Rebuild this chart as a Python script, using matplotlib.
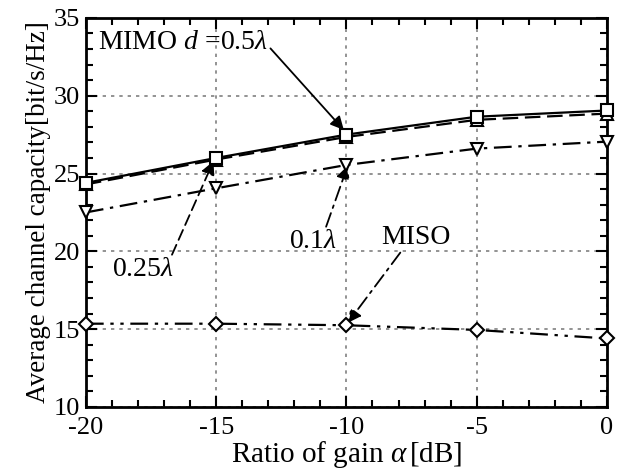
import matplotlib
matplotlib.use('Agg')
import matplotlib.pyplot as plt
from matplotlib.ticker import MultipleLocator

plt.rcParams['font.family'] = ['Liberation Serif', 'DejaVu Serif']
plt.rcParams['mathtext.fontset'] = 'custom'
plt.rcParams['mathtext.rm'] = 'Liberation Serif'
plt.rcParams['mathtext.it'] = 'Liberation Serif:italic'
plt.rcParams['axes.unicode_minus'] = False

alpha_db = [-20, -15, -10, -5, 0]
mimo_05 = [24.4, 26.0, 27.5, 28.65, 29.05]
mimo_025 = [24.3, 25.9, 27.35, 28.45, 28.85]
mimo_01 = [22.5, 24.05, 25.55, 26.6, 27.05]
miso = [15.35, 15.35, 15.25, 14.95, 14.4]

fig = plt.figure(figsize=(6.27, 4.71), dpi=100)
ax = fig.add_axes([0.137, 0.136, 0.831, 0.826])

mk = dict(markersize=8, markerfacecolor='white', markeredgecolor='black',
          markeredgewidth=1.5, clip_on=False)
ax.plot(alpha_db, mimo_05, color='black', lw=1.6, ls='-', marker='s', zorder=5, **mk)
ax.plot(alpha_db, mimo_025, color='black', lw=1.6, ls=(0, (7, 3)), marker='^', zorder=4, **mk)
ax.plot(alpha_db, mimo_01, color='black', lw=1.6, ls=(0, (8, 3, 1.5, 3)), marker='v', zorder=4, **mk)
ax.plot(alpha_db, miso, color='black', lw=1.6, ls=(0, (8, 3, 1.5, 3, 1.5, 3)), marker='D',
        zorder=4, markersize=7, markerfacecolor='white', markeredgecolor='black',
        markeredgewidth=1.5, clip_on=False)

ax.set_xlim(-20, 0)
ax.set_ylim(10, 35)
ax.xaxis.set_major_locator(MultipleLocator(5))
ax.xaxis.set_minor_locator(MultipleLocator(1))
ax.yaxis.set_major_locator(MultipleLocator(5))
ax.yaxis.set_minor_locator(MultipleLocator(1))
ax.tick_params(which='both', direction='in', top=True, right=True, width=1.5, labelsize=19)
ax.tick_params(which='major', length=8)
ax.tick_params(which='minor', length=5)
ax.tick_params(axis='x', which='major', pad=7)
ax.tick_params(axis='y', which='major', pad=4)
for s in ax.spines.values():
    s.set_linewidth(2)
ax.grid(True, color='0.5', ls=(0, (2, 3)), lw=1.2)

ax.set_xlabel(r'Ratio of gain $\alpha\,$[dB]', fontsize=21, labelpad=0)
ax.set_ylabel('Average channel capacity[bit/s/Hz]', fontsize=19.5, labelpad=2)

ax.annotate(r'MIMO $d$ =0.5$\lambda$', xy=(-10.1, 27.8), xytext=(-19.55, 33.4),
            fontsize=20, va='center', ha='left',
            arrowprops=dict(arrowstyle='-|>', color='black', lw=1.3, mutation_scale=20,
                            shrinkA=0, shrinkB=0, relpos=(1.0, 0.4)))
ax.annotate(r'0.25$\lambda$', xy=(-15.1, 25.8), xytext=(-19.0, 18.8),
            fontsize=20, va='center', ha='left',
            arrowprops=dict(arrowstyle='-|>', color='black', lw=1.3, mutation_scale=20,
                            ls=(0, (6, 3)), shrinkA=0, shrinkB=0, relpos=(0.95, 1.0)))
ax.annotate(r'0.1$\lambda$', xy=(-9.95, 25.5), xytext=(-12.2, 20.6),
            fontsize=20, va='center', ha='left',
            arrowprops=dict(arrowstyle='-|>', color='black', lw=1.3, mutation_scale=20,
                            ls=(0, (8, 3, 1.5, 3)), shrinkA=0, shrinkB=0, relpos=(0.75, 1.0)))
ax.annotate('MISO', xy=(-9.95, 15.4), xytext=(-8.65, 20.9),
            fontsize=20, va='center', ha='left',
            arrowprops=dict(arrowstyle='-|>', color='black', lw=1.3, mutation_scale=20,
                            ls=(0, (8, 3, 1.5, 3)), shrinkA=0, shrinkB=0, relpos=(0.3, 0.0)))

fig.savefig('out.png', dpi=100)
